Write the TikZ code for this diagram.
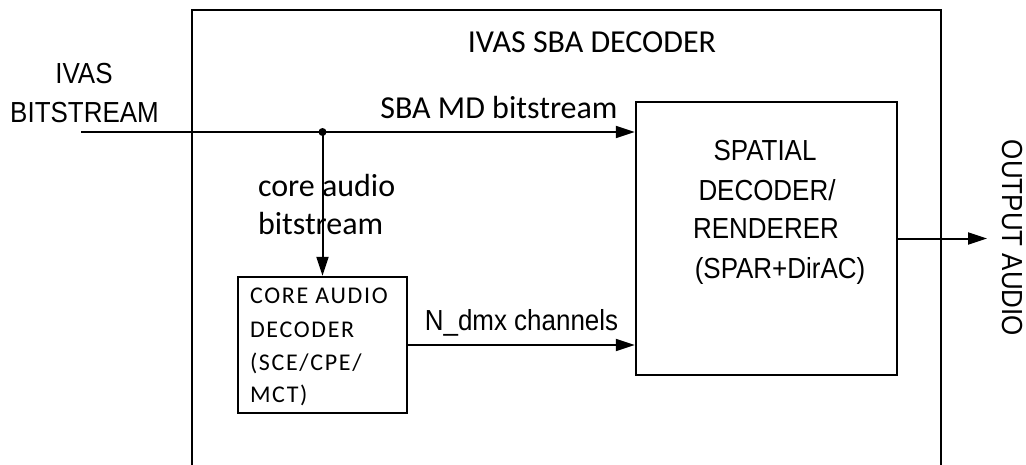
\documentclass[tikz,border=0pt]{standalone}
\usepackage{fontspec}
\setmainfont{Carlito}
\newfontfamily\narrowfont{Liberation Sans}[FakeStretch=0.895]
\newfontfamily\spacedfont{Carlito}[LetterSpace=7]
\usetikzlibrary{arrows.meta}
\begin{document}
\begin{tikzpicture}[x=1pt,y=-1pt,
  line width=2pt,
  box/.style={draw,line width=2.4pt,inner sep=0pt},
  flow/.style={-{Triangle[length=19pt,width=12pt]},line width=2pt},
  cal/.style={font=\fontsize{32}{38}\selectfont,inner sep=0pt,anchor=base},
  nar/.style={font=\narrowfont\fontsize{29}{38}\selectfont,inner sep=0pt,anchor=base},
  sml/.style={font=\spacedfont\fontsize{24}{33}\selectfont,inner sep=0pt,anchor=base west},
]
\useasboundingbox (0,0) rectangle (1026,464);
\draw (192,470) -- (192,10) -- (941,10) -- (941,470);
\node[box,minimum width=261pt,minimum height=273pt] (spatial) at (766.5,238.5) {};
\node[box,minimum width=169pt,minimum height=136pt] (core) at (322.5,345) {};
\coordinate (in) at (81,132);
\coordinate (junc) at (322.5,132);
\coordinate (out) at (987,238.5);
\draw[flow] (in) -- (in -| spatial.west);
\fill (junc) circle (4pt);
\draw[flow] (junc) -- (core.north);
\draw[flow] (core.east) -- (core.east -| spatial.west);
\draw[flow] (spatial.east) -- (out);
\node[nar] (ivas) at (84,83) {IVAS};
\node[nar] (bits) at (84.5,122) {BITSTREAM};
\node[cal] (title) at (592,52) {IVAS SBA DECODER};
\node[cal] (sbamd) at (499,118) {SBA MD bitstream};
\node[cal,anchor=base west] (cau) at (257,196) {core audio};
\node[cal,anchor=base west] (cbs) at (257,234) {bitstream};
\node[nar] (sp1) at (765,160) {SPATIAL};
\node[nar] (sp2) at (767,200) {DECODER/};
\node[nar] (sp3) at (766,238) {RENDERER};
\node[nar] (sp4) at (780,278) {(SPAR+DirAC)};
\node[sml] (c1) at (249,303) {CORE AUDIO};
\node[sml] (c2) at (249,337) {DECODER};
\node[sml] (c3) at (249,370) {(SCE/CPE/};
\node[sml] (c4) at (249,402) {MCT)};
\node[nar] (ndmx) at (521.5,330) {N\_dmx channels};
\node[nar,anchor=center,rotate=-90] (outa) at (1012,238) {OUTPUT AUDIO};
\end{tikzpicture}
\end{document}
